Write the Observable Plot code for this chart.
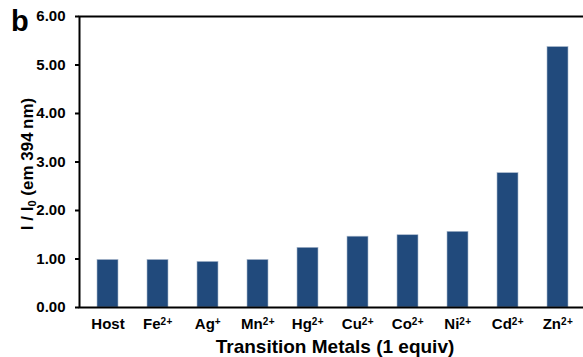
<!DOCTYPE html>
<html>
<head>
<meta charset="utf-8">
<script src="https://cdn.jsdelivr.net/npm/d3@7"></script>
<script src="https://cdn.jsdelivr.net/npm/@observablehq/plot@0.6"></script>
<style>
  html, body { margin: 0; padding: 0; background: #fff; }
  #wrap { position: relative; width: 583px; height: 357px; }
  #panel { position: absolute; left: 11px; top: 7px; font: bold 29px "Liberation Sans", Arial, sans-serif; color: #000; line-height: 1; }
</style>
</head>
<body>
<div id="wrap"><div id="panel">b</div></div>
<script>
const metals = ["Host", "Fe", "Ag", "Mn", "Hg", "Cu", "Co", "Ni", "Cd", "Zn"];
const charges = ["", "2+", "+", "2+", "2+", "2+", "2+", "2+", "2+", "2+"];
const ratios = [0.98, 0.98, 0.94, 0.98, 1.23, 1.46, 1.49, 1.56, 2.77, 5.37];
const yTicks = [0, 1, 2, 3, 4, 5, 6];
const xLabel = "Transition Metals (1 equiv)";

const data = metals.map((m, i) => ({metal: m, value: ratios[i]}));

const chart = Plot.plot({
  width: 583,
  height: 357,
  marginLeft: 79,
  marginRight: -3,
  marginTop: 16,
  marginBottom: 50,
  style: {fontFamily: "'Liberation Sans', Arial, sans-serif", fontSize: "15px", fontWeight: "bold", color: "#000", background: "transparent"},
  x: {domain: metals, paddingInner: 0.59, paddingOuter: 0.295, label: null},
  y: {domain: [0, 6], label: null},
  marks: [
    Plot.barY(data, {x: "metal", y: "value", fill: "#214a7c", stroke: "#a9b8cc", strokeWidth: 0.6}),
    Plot.frame({stroke: "#000", strokeWidth: 2}),
    Plot.axisY({ticks: yTicks, tickFormat: d3.format(".2f"), tickSize: 4, tickPadding: 10, strokeWidth: 2, label: null}),
    Plot.axisX({tickSize: 0, tickPadding: 11, label: null}),
  ]
});
chart.style.position = "absolute";
chart.style.left = "0px";
chart.style.top = "0px";
const wrap = document.getElementById("wrap");
wrap.insertBefore(chart, wrap.firstChild);

const ns = "http://www.w3.org/2000/svg";
// superscript charges on x tick labels
chart.querySelectorAll("text").forEach(t => {
  const i = metals.indexOf(t.textContent);
  if (i >= 0 && charges[i]) {
    const s = document.createElementNS(ns, "tspan");
    s.setAttribute("font-size", "10px");
    s.setAttribute("dy", "-4");
    s.setAttribute("letter-spacing", "0.5");
    s.textContent = charges[i];
    t.appendChild(s);
  }
});

// y axis title with subscript
const t1 = document.createElementNS(ns, "text");
t1.setAttribute("transform", "translate(33,164) rotate(-90)");
t1.setAttribute("text-anchor", "middle");
t1.setAttribute("font-size", "17px");
t1.setAttribute("font-weight", "bold");
const p1 = document.createElementNS(ns, "tspan"); p1.textContent = "I / I";
const p2 = document.createElementNS(ns, "tspan"); p2.textContent = "0"; p2.setAttribute("font-size", "11px"); p2.setAttribute("dy", "3");
const p3 = document.createElementNS(ns, "tspan"); p3.textContent = " (em 394\u2009nm)"; p3.setAttribute("dy", "-3");
t1.append(p1, p2, p3);
chart.appendChild(t1);

const t2 = document.createElementNS(ns, "text");
t2.setAttribute("x", 335);
t2.setAttribute("y", 353);
t2.setAttribute("text-anchor", "middle");
t2.setAttribute("font-size", "19px");
t2.setAttribute("font-weight", "bold");
t2.textContent = xLabel;
chart.appendChild(t2);
</script>
</body>
</html>
